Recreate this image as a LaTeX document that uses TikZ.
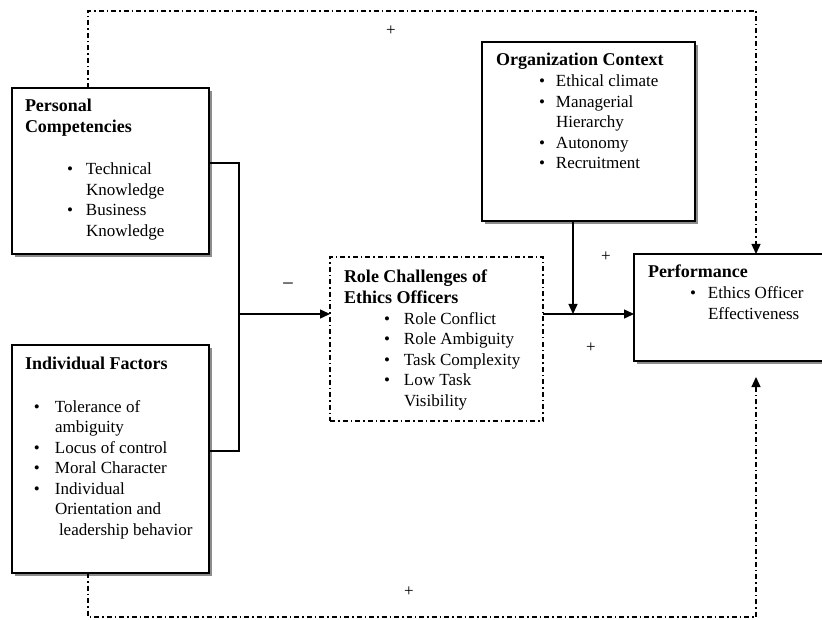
\documentclass[tikz,border=0pt]{standalone}
\usepackage{fontspec}
\setmainfont{Liberation Serif}
\usetikzlibrary{arrows.meta,shadows}
\newcommand\mybul[1]{\makebox[#1pt][l]{\textbullet}}
\newcommand\myind[1]{\hspace*{#1pt}}
\begin{document}
\begin{tikzpicture}[x=1pt,y=-1pt,
  box/.style={draw, line width=1.8pt, fill=white, inner sep=0pt, outer sep=0pt, anchor=north west,
    drop shadow={shadow xshift=3pt,shadow yshift=-3pt,fill=black!45,opacity=1}},
  ddbox/.style={draw, line width=1.3pt, dash pattern=on 5pt off 3pt on 1.5pt off 3pt, inner sep=0pt, outer sep=0pt, anchor=north west},
  conn/.style={line width=1.3pt},
  arr/.style={conn, -{Triangle[length=10pt,width=9pt]}},
  fb/.style={line width=1.3pt, dash pattern=on 5pt off 3pt on 1.5pt off 3pt, -{Triangle[length=10pt,width=9pt]}},
  txt/.style={inner sep=0pt, outer sep=0pt, anchor=base west, font=\fontsize{17}{20.5}\selectfont},
  ttl/.style={inner sep=0pt, outer sep=0pt, anchor=base west, font=\bfseries\fontsize{18}{21}\selectfont},
  sign/.style={inner sep=0pt, font=\fontsize{17}{20}\selectfont}
]
\useasboundingbox (0,0) rectangle (822,620);
\clip (0,0) rectangle (822,620);

% boxes
\node[box, minimum width=197pt, minimum height=166pt] (pc) at (12,88) {};
\node[box, minimum width=197pt, minimum height=228pt] (if) at (12,345) {};
\node[box, minimum width=213pt, minimum height=179pt] (org) at (482,42) {};
\node[ddbox, minimum width=213pt, minimum height=164pt] (role) at (330,257) {};
\node[box, minimum width=215pt, minimum height=107pt] (perf) at (634,254) {};

% texts
\node[ttl] (pct) at (25,112) {\begin{tabular}[t]{@{}l@{}}Personal\\Competencies\end{tabular}};
\node[txt] (pcl) at (67,175) {\begin{tabular}[t]{@{}l@{}}\mybul{19}Technical\\\myind{19}Knowledge\\\mybul{19}Business\\\myind{19}Knowledge\end{tabular}};

\node[ttl] (ift) at (25,369) {Individual Factors};
\node[txt] (ifl) at (34,412) {\begin{tabular}[t]{@{}l@{}}\mybul{21}Tolerance of\\\myind{21}ambiguity\\\mybul{21}Locus of control\\\mybul{21}Moral Character\\\mybul{21}Individual\\\myind{21}Orientation and\\\myind{25}leadership behavior\end{tabular}};

\node[ttl] (orgt) at (496,66) {Organization Context};
\node[txt] (orgl) at (539,87) {\begin{tabular}[t]{@{}l@{}}\mybul{17}Ethical climate\\\mybul{17}Managerial\\\myind{17}Hierarchy\\\mybul{17}Autonomy\\\mybul{17}Recruitment\end{tabular}};

\node[ttl] (rolet) at (344,283) {\begin{tabular}[t]{@{}l@{}}Role Challenges of\\Ethics Officers\end{tabular}};
\node[txt] (rolel) at (384,324) {\begin{tabular}[t]{@{}l@{}}\mybul{20}Role Conflict\\\mybul{20}Role Ambiguity\\\mybul{20}Task Complexity\\\mybul{20}Low Task\\\myind{20}Visibility\end{tabular}};

\node[ttl] (perft) at (648,278) {Performance};
\node[txt] (perfl) at (690,299) {\begin{tabular}[t]{@{}l@{}}\mybul{18}Ethics Officer\\\myind{18}Effectiveness\end{tabular}};

% connectors
\coordinate (j) at (239,314);
\coordinate (k) at (573,314);
\draw[conn] ([yshift=8pt]pc.east) -| (j);
\draw[conn] ([yshift=8pt]if.east) -| (j);
\draw[arr] (j) -- (role.west |- j);
\draw[arr] (role.east |- j) -- (perf.west |- j);
\draw[arr] (org.south -| k) -- (k);

% feedback loops
\coordinate (tl) at (88,11);
\coordinate (tr) at (756,11);
\coordinate (bl) at (88,617);
\coordinate (br) at (756,617);
\draw[fb] (pc.north -| tl) -- (tl) -- (tr) -- (perf.north -| tr);
\draw[fb, shorten >=16pt] (if.south -| bl) -- (bl) -- (br) -- (perf.south -| br);

% signs
\node[sign, font=\fontsize{21}{22}\selectfont] (s1) at (288,287) {−};
\node[sign] (s2) at (391,31) {+};
\node[sign] (s3) at (606,257) {+};
\node[sign] (s4) at (591,348) {+};
\node[sign] (s5) at (409,592) {+};
\end{tikzpicture}
\end{document}
